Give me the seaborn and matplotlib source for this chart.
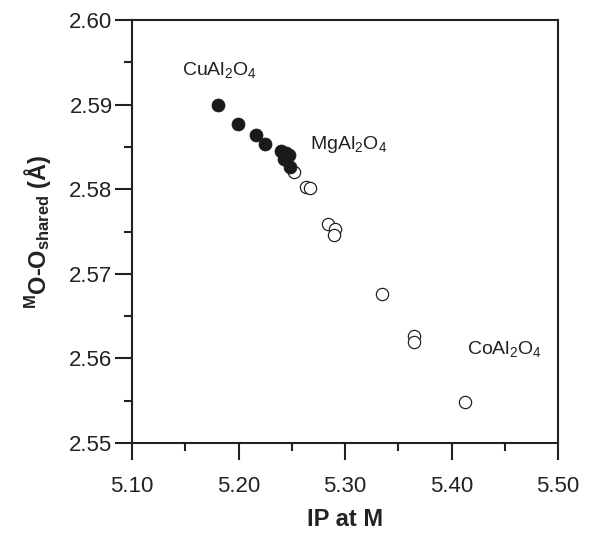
import matplotlib
matplotlib.use("Agg")
import matplotlib.pyplot as plt
import matplotlib.ticker as mticker
import numpy as np
import pandas as pd
import seaborn as sns

# Ionization potential at the M site vs. shared-edge O-O distance
cu_ip = [5.1812, 5.1996, 5.2163, 5.2253, 5.2398, 5.2445, 5.2475, 5.2430, 5.2488]
cu_oo = [2.5899, 2.5877, 2.5864, 2.5853, 2.5845, 2.5843, 2.5840, 2.5836, 2.5826]

co_ip = [5.2521, 5.2631, 5.2676, 5.2841, 5.2906, 5.2900, 5.3347, 5.3646, 5.3646, 5.4123]
co_oo = [2.5820, 2.5803, 2.5802, 2.5759, 2.5753, 2.5746, 2.5676, 2.5626, 2.5619, 2.5548]

compound_names = ["CuAl$_2$O$_4$", "MgAl$_2$O$_4$", "CoAl$_2$O$_4$"]
compound_pos = [(5.1465, 2.5935), (5.2676, 2.5848), (5.4150, 2.5605)]

x_ticks = [5.10, 5.20, 5.30, 5.40, 5.50]
y_ticks = [2.55, 2.56, 2.57, 2.58, 2.59, 2.60]

sns.set_theme(style="ticks")
plt.rcParams["font.family"] = ["Liberation Sans", "DejaVu Sans"]
plt.rcParams["mathtext.fontset"] = "custom"
plt.rcParams["mathtext.rm"] = "Liberation Sans"
plt.rcParams["mathtext.it"] = "Liberation Sans:italic"
plt.rcParams["mathtext.bf"] = "Liberation Sans:bold"

df_cu = pd.DataFrame({"ip": cu_ip, "oo": cu_oo})
df_co = pd.DataFrame({"ip": co_ip, "oo": co_oo})

fig = plt.figure(figsize=(6.08, 5.50), dpi=100)
ax = fig.add_axes([132 / 608, 1 - 443 / 550, 426 / 608, 423 / 550])

sns.scatterplot(data=df_co, x="ip", y="oo", ax=ax, s=78, marker="o",
                facecolor="white", edgecolor="#1a1a1a", linewidth=0.85, zorder=3)
sns.scatterplot(data=df_cu, x="ip", y="oo", ax=ax, s=88, marker="o",
                color="#1a1a1a", edgecolor="#1a1a1a", linewidth=0.5, zorder=4)

for name, (px, py) in zip(compound_names, compound_pos):
    ax.text(px, py, name, fontsize=14, color="#222222", ha="left", va="baseline")

ax.set_xlim(5.10, 5.50)
ax.set_ylim(2.55, 2.60)
ax.xaxis.set_major_locator(mticker.FixedLocator(x_ticks))
ax.yaxis.set_major_locator(mticker.FixedLocator(y_ticks))
ax.xaxis.set_minor_locator(mticker.MultipleLocator(0.05))
ax.yaxis.set_minor_locator(mticker.MultipleLocator(0.005))
ax.xaxis.set_major_formatter(mticker.FormatStrFormatter("%.2f"))
ax.yaxis.set_major_formatter(mticker.FormatStrFormatter("%.2f"))

ax.tick_params(axis="both", which="major", direction="out", length=12, width=1.5,
               labelsize=16, colors="#222222", pad=2)
ax.tick_params(axis="x", which="major", pad=12)
ax.tick_params(axis="both", which="minor", direction="out", length=6, width=1.5,
               colors="#222222")
for side in ["left", "right", "top", "bottom"]:
    ax.spines[side].set_visible(True)
    ax.spines[side].set_linewidth(1.5)
    ax.spines[side].set_color("#222222")

ax.set_xlabel("IP at M", fontsize=17, fontweight="bold", color="#222222", labelpad=7.5)
ax.set_ylabel(r"$^{\mathbf{M}}$O-O$_{\mathbf{shared}}$ (Å)", fontsize=17,
              fontweight="bold", color="#222222", labelpad=12)

fig.savefig("out.png", dpi=100)
